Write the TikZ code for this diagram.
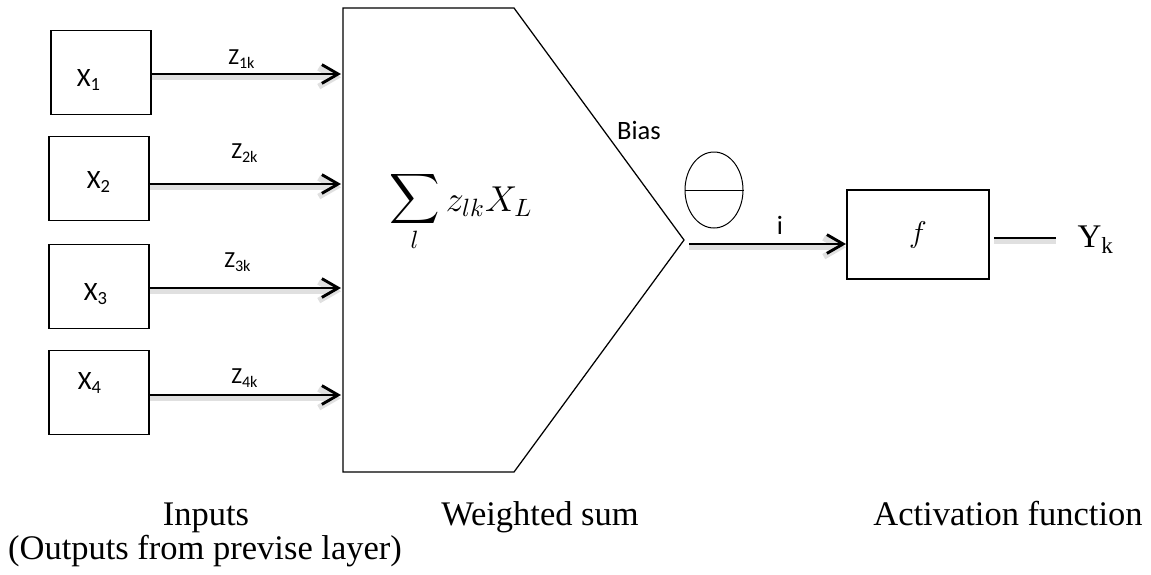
\documentclass[tikz,border=0pt]{standalone}
\usepackage{fontspec}
\setmainfont{Liberation Serif}
\newfontfamily\calibri{Carlito}
\usetikzlibrary{arrows.meta,positioning,shapes.geometric,calc}
\tikzset{
  inbox/.style={draw=black,line width=0.6pt,
                minimum width=40pt,minimum height=33.6pt,inner sep=0pt},
  actbox/.style={draw=black,line width=0.6pt,
                 minimum width=56.8pt,minimum height=35.6pt,inner sep=0pt},
  biasmark/.style={draw=black,line width=0.4pt,ellipse,
                   minimum width=23.2pt,minimum height=30.4pt,inner sep=0pt},
  flowarr/.style={-{Straight Barb[length=6.5pt,width=7.5pt]},line width=1.15pt,
                  preaction={draw=black!12,line width=2.4pt,
                             transform canvas={yshift=-1.3pt}}},
  plainline/.style={line width=1.15pt,
                    preaction={draw=black!12,line width=2.4pt,
                               transform canvas={yshift=-1.3pt}}},
  varlab/.style={font=\calibri\fontsize{10.6}{12}\selectfont,inner sep=0pt},
  wlab/.style={font=\calibri\fontsize{9.2}{11}\selectfont,inner sep=0pt},
  caption/.style={font=\fontsize{13.8}{16}\selectfont,inner sep=0pt,anchor=base}
}
\begin{document}
\begin{tikzpicture}[x=0.4pt,y=-0.4pt]
  \useasboundingbox (0,0) rectangle (1151,574);
  % inputs and weights
  \foreach \i/\bx/\yy/\lx/\ly/\ay/\zx/\zy in {1/101/72.5/89/80/74/242/59,
      2/99/178.7/99/182/184/245/153,
      3/99/286.3/96/294/288/238/262,
      4/99/392.5/90/383/395/245/378} {
    \node[inbox] (in\i) at (\bx,\yy) {};
    \node[varlab] (x\i) at (\lx,\ly) {X\textsubscript{\i}};
    \coordinate (end\i) at (341,\ay);
    \draw[flowarr] (in\i.east |- end\i) -- (end\i);
    \node[wlab] (z\i) at (\zx,\zy) {Z\textsubscript{\i k}};
  }
  % summation block
  \coordinate (tip) at (684,240);
  \draw[line width=0.5pt] (343,8) -- (514,8) -- (tip) -- (514,472) -- (343,472) -- cycle;
  \node[font=\fontsize{14}{17}\selectfont,inner sep=0pt] (sum) at (461,211)
    {$\displaystyle\mathop{\scalebox{1.4}{$\displaystyle\sum$}}_{l} z_{lk}X_L$};
  \node[varlab] (bias) at (639,130) {Bias};
  \node[biasmark] (theta) at (714,190) {};
  \draw[line width=0.4pt] (theta.west) -- (theta.east);
  % activation
  \node[actbox,font=\fontsize{13}{15}\selectfont] (fbox) at (918,234.5) {$f$};
  \coordinate (iend) at (846,244);
  \draw[flowarr] ([xshift=2pt]tip |- iend) -- (iend);
  \node[varlab] (ilab) at (780,225) {i};
  \node[font=\fontsize{13.2}{16}\selectfont,inner sep=0pt,anchor=west] (ylab) at (1077,240) {Y\textsubscript{k}};
  \coordinate (yend) at (1056,238);
  \draw[plainline] ([xshift=1.6pt]fbox.east |- yend) -- (yend);
  % captions
  \node[caption] (capin) at (206,525) {Inputs};
  \node[caption] (capprev) at (205,559) {(Outputs from previse layer)};
  \node[caption] (capsum) at (540,525) {Weighted sum};
  \node[caption] (capact) at (1008,525) {Activation function};
\end{tikzpicture}
\end{document}
